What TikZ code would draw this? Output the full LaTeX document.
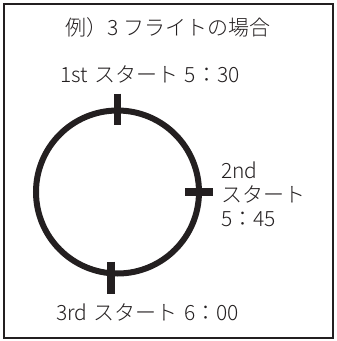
\documentclass[tikz,border=0pt]{standalone}
\usepackage{fontspec}
\IfFontExistsTF{Noto Sans CJK JP Light}
  {\setmainfont{Noto Sans CJK JP Light}}
  {\setmainfont{Noto Sans CJK JP}}
\usetikzlibrary{positioning}
\definecolor{ink}{RGB}{35,31,32}
\newcommand{\gap}{\hspace{0.3em}}

\begin{document}
\begin{tikzpicture}[x=1pt, y=-1pt, ink,
    tick/.style={line width=7.5pt},
    txt/.style={font=\fontsize{21}{24}\selectfont, inner sep=0pt, text=ink}]

    \useasboundingbox (0,0) rectangle (337,341);
    \draw[line width=1.5pt] (4,4) rectangle (333,338);

    \node [txt] (title) at (168,28) {例）3 フライトの場合};
    \node [circle, draw, line width=6pt, minimum size=163pt, inner sep=0pt] (clock) at (117.5,192) {};

    \draw[tick] ([yshift=14pt]clock.north) -- ([yshift=-17pt]clock.north);
    \draw[tick] ([xshift=-17pt]clock.east) -- ([xshift=11pt]clock.east);
    \draw[tick] ([xshift=-6.5pt,yshift=15pt]clock.south) -- ([xshift=-6.5pt,yshift=-17.5pt]clock.south);

    \node [txt] (first) at (150,74) {1st\gap スタート\gap 5：30};
    \node [txt, anchor=west, align=left] (second) at (221,194) {2nd\\スタート\\5：45};
    \node [txt] (third) at (147.5,312) {3rd\gap スタート\gap 6：00};
\end{tikzpicture}
\end{document}
